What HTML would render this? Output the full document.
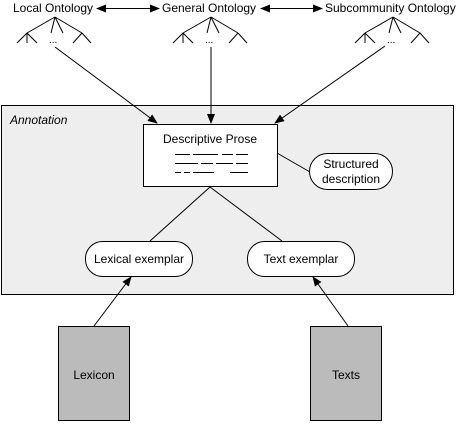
<!DOCTYPE html>
<html><head><style>
html,body{margin:0;padding:0;background:#fff;}
svg{display:block;font-family:"Liberation Sans",sans-serif;font-size:12px;}
</style></head><body>
<svg width="464" height="426" viewBox="0 0 464 426">
<defs>
<marker id="a" markerWidth="10" markerHeight="8" refX="9" refY="4" orient="auto-start-reverse" markerUnits="userSpaceOnUse"><path d="M0,0 L10,4 L0,8z" fill="#000"/></marker>
</defs>
<rect x="1.5" y="105.5" width="452" height="189" fill="#eee" stroke="#000"/>
<text x="10" y="124" font-style="italic">Annotation</text>
<!-- top labels -->
<text x="13" y="12">Local Ontology</text>
<text x="162" y="12">General Ontology</text>
<text x="325" y="12">Subcommunity Ontology</text>
<line x1="97" y1="8.5" x2="159" y2="8.5" stroke="#000" marker-start="url(#a)" marker-end="url(#a)"/>
<line x1="261" y1="8.5" x2="322" y2="8.5" stroke="#000" marker-start="url(#a)" marker-end="url(#a)"/>
<!-- trees -->
<g stroke="#000" fill="none">
<g id="t">
<path d="M55,17 L27,33 M55,17 L51,33 M55,17 L63,33 M55,17 L82,33"/>
<path d="M27,33 L17,43 M27,33 L27,43 M27,33 L37,43"/>
<path d="M82,33 L73,43 M82,33 L91,43"/>
</g>
<use href="#t" x="156"/>
<use href="#t" x="338"/>
</g>
<g font-size="10"><text x="49" y="43">...</text><text x="205" y="43">...</text><text x="387" y="43">...</text></g>
<g stroke="#000" fill="none">
<line x1="55" y1="47" x2="157" y2="123" marker-end="url(#a)"/>
<line x1="211" y1="47" x2="211" y2="123" marker-end="url(#a)"/>
<line x1="385" y1="46" x2="275" y2="123" marker-end="url(#a)"/>
<line x1="210" y1="187" x2="150" y2="241"/>
<line x1="210" y1="187" x2="282" y2="241"/>
<line x1="277" y1="153" x2="310" y2="172"/>
<line x1="94" y1="326" x2="131" y2="277" marker-end="url(#a)"/>
<line x1="348" y1="326" x2="313" y2="277" marker-end="url(#a)"/>
</g>
<rect x="143.5" y="124.5" width="134" height="62" fill="#fff" stroke="#000"/>
<text x="210" y="143" text-anchor="middle">Descriptive Prose</text>
<g stroke="#000" shape-rendering="crispEdges">
<path d="M175,154.5h15 M193,154.5h25 M222,154.5h11 M236,154.5h12"/>
<path d="M175,163.5h23 M201,163.5h12 M216,163.5h17 M236,163.5h12"/>
<path d="M175,172.5h6 M184,172.5h6 M193,172.5h21 M230,172.5h18"/>
</g>
<rect x="309.5" y="153.5" width="83" height="36" rx="18" fill="#fff" stroke="#000"/>
<text x="351" y="168" text-anchor="middle">Structured</text>
<text x="351" y="183" text-anchor="middle">description</text>
<rect x="85.5" y="241.5" width="107" height="35" rx="17" fill="#fff" stroke="#000"/>
<text x="139" y="263" text-anchor="middle">Lexical exemplar</text>
<rect x="247.5" y="241.5" width="107" height="35" rx="17" fill="#fff" stroke="#000"/>
<text x="301" y="263" text-anchor="middle">Text exemplar</text>
<rect x="58.5" y="326.5" width="71" height="94" fill="#bbb" stroke="#000"/>
<text x="94" y="379" text-anchor="middle">Lexicon</text>
<rect x="310.5" y="326.5" width="71" height="94" fill="#bbb" stroke="#000"/>
<text x="346" y="379" text-anchor="middle">Texts</text>
</svg>
</body></html>
